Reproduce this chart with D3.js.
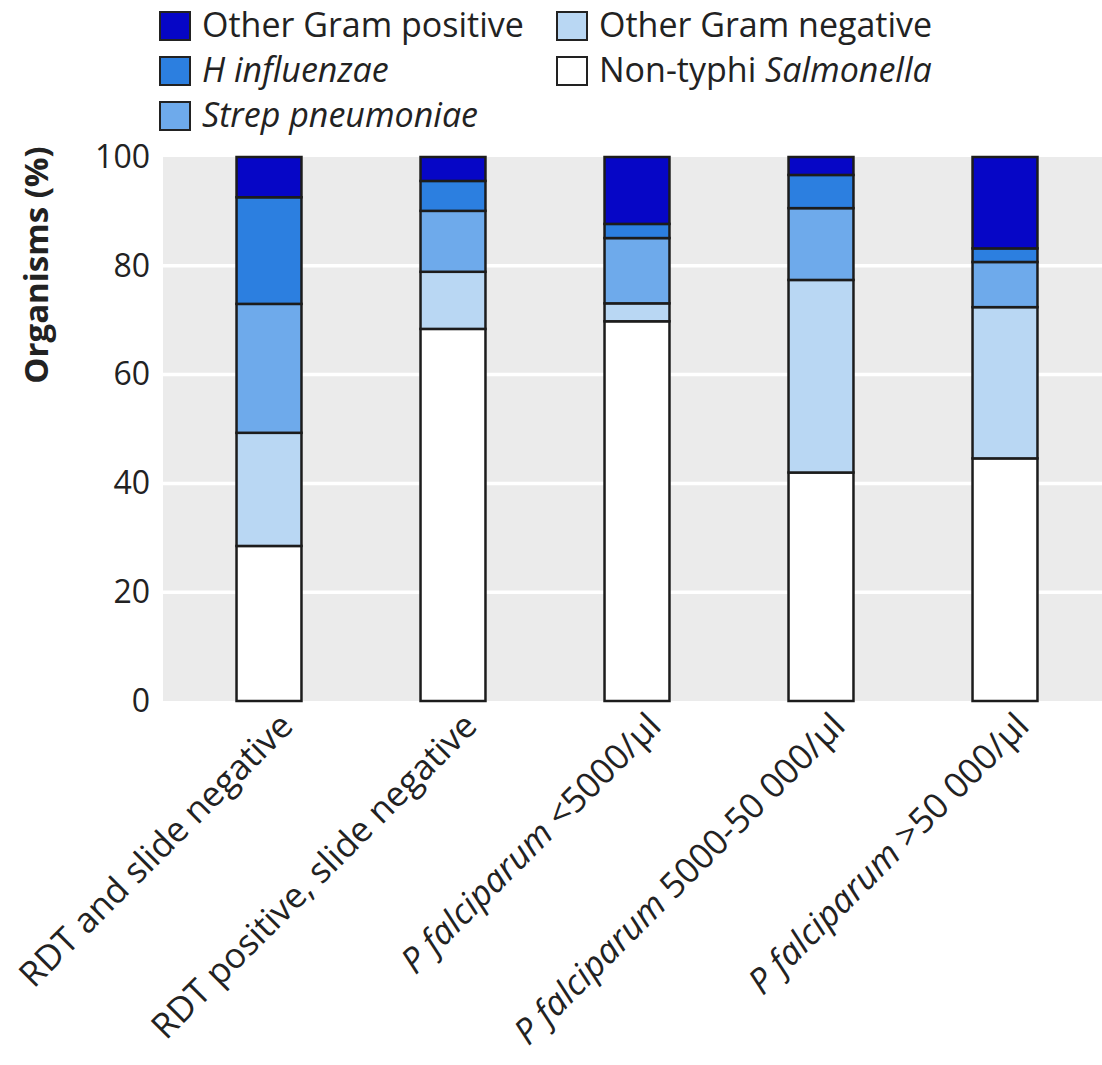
<!DOCTYPE html>
<html>
<head>
<meta charset="utf-8">
<script src="https://cdn.jsdelivr.net/npm/d3@7"></script>
<style>
  body { margin: 0; background: #fff; }
  text { font-family: "Open Sans", sans-serif; fill: #222; }
</style>
</head>
<body>
<script>
// categories (x axis), each as [normal part, italic part, normal part]
const groups = ["g1", "g2", "g3", "g4", "g5"];
const groupLabels = [
  ["RDT and slide negative", "", ""],
  ["RDT positive, slide negative", "", ""],
  ["", "P falciparum", " <5000/µl"],
  ["", "P falciparum", " 5000-50 000/µl"],
  ["", "P falciparum", " >50 000/µl"]
];

// series, bottom to top
const seriesKeys = ["salmonella", "gramNeg", "strep", "hinf", "gramPos"];
const salmonella = [28.5, 68.4, 69.8, 42.0, 44.6];
const gramNeg    = [20.8, 10.5, 3.3, 35.4, 27.8];
const strep      = [23.7, 11.2, 12.0, 13.2, 8.3];
const hinf       = [19.6, 5.5, 2.6, 6.1, 2.5];
const gramPos    = [7.4, 4.4, 12.3, 3.3, 16.8];

const yTicks = [0, 20, 40, 60, 80, 100];

const colors = {
  gramPos: "#0606c6",
  hinf: "#2c7fe0",
  strep: "#6eaaeb",
  gramNeg: "#b9d7f3",
  salmonella: "#ffffff"
};

// legend entries: [key, normal, italic] in two columns
const legendCols = [
  [["gramPos", "Other Gram positive", ""], ["hinf", "", "H influenzae"], ["strep", "", "Strep pneumoniae"]],
  [["gramNeg", "Other Gram negative", ""], ["salmonella", "Non-typhi ", "Salmonella"]]
];

const width = 1102, height = 1065;
const plot = { left: 163, right: 1102, top: 157, bottom: 701 };

const svg = d3.select("body").append("svg")
  .attr("width", width)
  .attr("height", height);

const table = groups.map((g, i) => ({
  group: g,
  salmonella: salmonella[i], gramNeg: gramNeg[i], strep: strep[i], hinf: hinf[i], gramPos: gramPos[i]
}));
const stacked = d3.stack().keys(seriesKeys)(table);

const x = d3.scaleBand()
  .domain(groups)
  .range([177, 1097])
  .paddingInner(0.647)
  .paddingOuter(0.3235);

const y = d3.scaleLinear().domain([0, 100]).range([plot.bottom, plot.top]);

// background
svg.append("rect")
  .attr("x", plot.left).attr("y", plot.top)
  .attr("width", plot.right - plot.left).attr("height", plot.bottom - plot.top)
  .attr("fill", "#ebebeb");

// gridlines
svg.append("g").selectAll("line")
  .data(yTicks.filter(t => t > 0 && t < 100))
  .join("line")
  .attr("x1", plot.left).attr("x2", plot.right)
  .attr("y1", d => y(d)).attr("y2", d => y(d))
  .attr("stroke", "#fff").attr("stroke-width", 3.5);

// y axis (labels only)
const yAxis = svg.append("g")
  .attr("transform", `translate(${plot.left},0)`)
  .call(d3.axisLeft(y).tickValues(yTicks).tickSize(0).tickPadding(13));
yAxis.select(".domain").remove();
yAxis.selectAll("text")
  .attr("font-family", "'Open Sans', sans-serif")
  .attr("font-size", 32)
  .attr("fill", "#333");

svg.append("text")
  .attr("transform", "translate(48,265) rotate(-90)")
  .attr("text-anchor", "middle")
  .attr("font-size", 33)
  .attr("font-weight", "bold")
  .attr("fill", "#111")
  .text("Organisms (%)");

// bars
svg.append("g").selectAll("g")
  .data(stacked)
  .join("g")
  .attr("fill", d => colors[d.key])
  .selectAll("rect")
  .data(d => d)
  .join("rect")
  .attr("x", d => x(d.data.group))
  .attr("width", x.bandwidth())
  .attr("y", d => y(d[1]))
  .attr("height", d => y(d[0]) - y(d[1]))
  .attr("stroke", "#1c1c1c")
  .attr("stroke-width", 2.5);

// x labels
const xl = svg.append("g").selectAll("text")
  .data(groupLabels)
  .join("text")
  .attr("transform", (d, i) => `translate(${x(groups[i]) + x.bandwidth() / 2 + 26},728) rotate(-45)`)
  .attr("text-anchor", "end")
  .attr("font-size", 35)
  .attr("fill", "#222");
xl.each(function (d) {
  const t = d3.select(this);
  if (d[0]) t.append("tspan").text(d[0]);
  if (d[1]) t.append("tspan").attr("font-style", "italic").text(d[1]);
  if (d[2]) t.append("tspan").text(d[2]);
});

// legend
const colX = [160, 557];
legendCols.forEach((col, ci) => {
  col.forEach((e, ri) => {
    const ly = 24 + ri * 45;
    svg.append("rect")
      .attr("x", colX[ci]).attr("y", ly - 12)
      .attr("width", 30).attr("height", 28)
      .attr("fill", colors[e[0]])
      .attr("stroke", "#222").attr("stroke-width", 2);
    const t = svg.append("text")
      .attr("x", colX[ci] + 42).attr("y", ly + 13)
      .attr("font-size", 34).attr("fill", "#222");
    if (e[1]) t.append("tspan").text(e[1]);
    if (e[2]) t.append("tspan").attr("font-style", "italic").text(e[2]);
  });
});
</script>
</body>
</html>
